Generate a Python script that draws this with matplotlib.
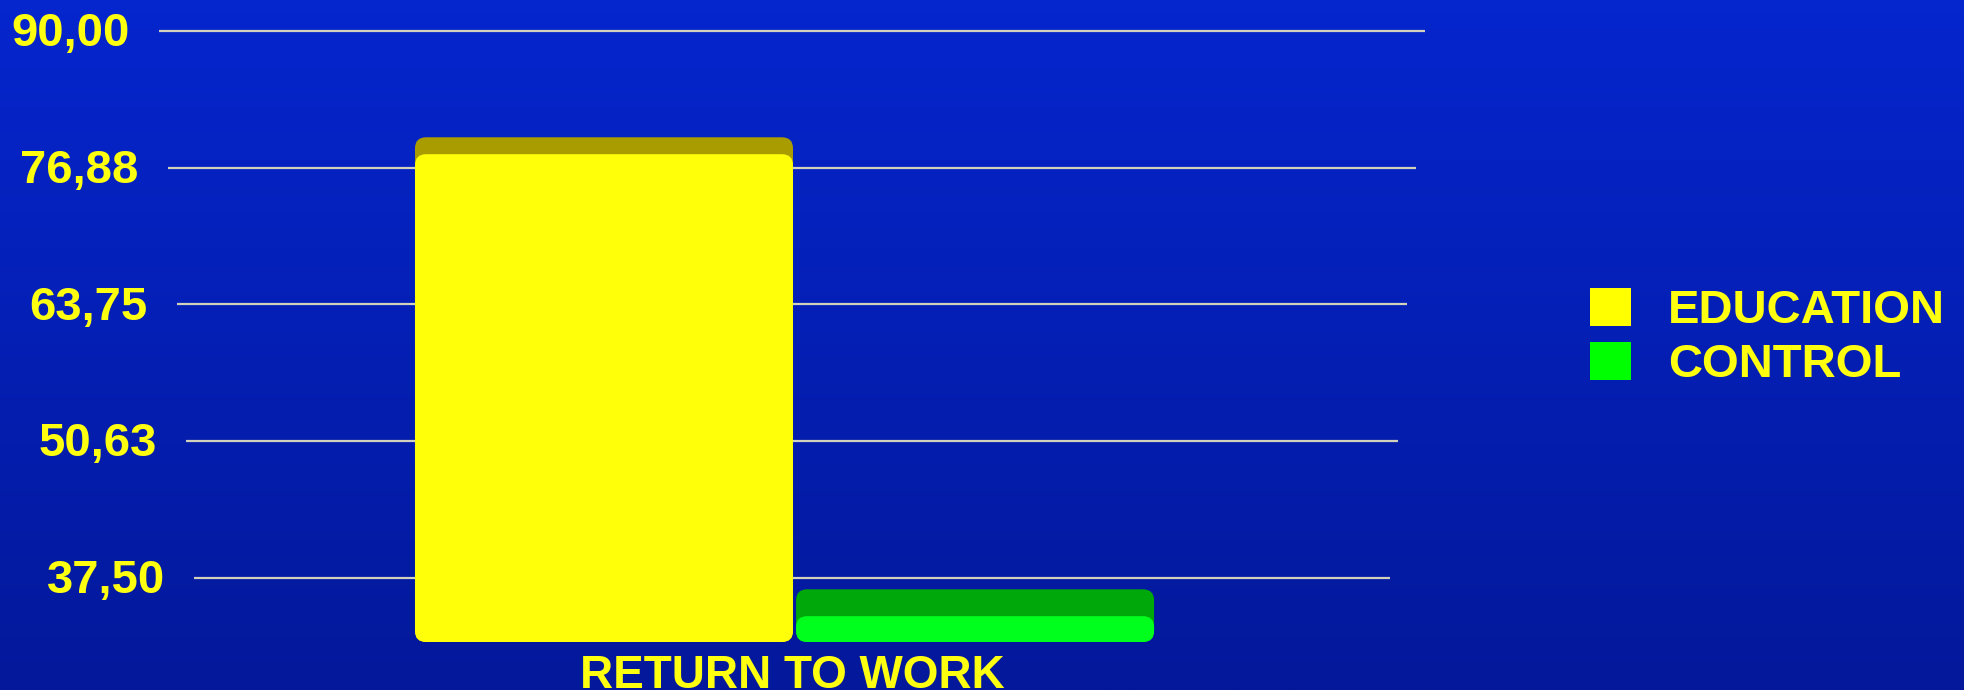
import numpy as np
import matplotlib
matplotlib.use('Agg')
from matplotlib import pyplot as plt
from matplotlib.patches import FancyBboxPatch, Patch
from matplotlib.colors import LinearSegmentedColormap

# data
category = 'RETURN TO WORK'
groups = ['EDUCATION', 'CONTROL']
values = [79.8, 36.4]
floor_value = 31.34
tick_values = [37.50, 50.63, 63.75, 76.88, 90.00]
tick_labels = ['37,50', '50,63', '63,75', '76,88', '90,00']

front_colors = ['#FFFF0A', '#00FF1C']
top_colors = ['#A89C00', '#00A80A']
legend_colors = ['#FFFF00', '#00FF00']
text_yellow = '#FFFF10'

plt.rcParams['font.family'] = ['Liberation Sans', 'DejaVu Sans']

fig = plt.figure(figsize=(19.64, 6.9), dpi=100)

# blue gradient background
bg = fig.add_axes([0, 0, 1, 1], zorder=-5)
grad = np.linspace(0, 1, 256).reshape(-1, 1)
cmap = LinearSegmentedColormap.from_list('bg', ['#0626CE', '#03189A'])
bg.imshow(grad, aspect='auto', cmap=cmap, extent=[0, 1, 0, 1])
bg.axis('off')

ax = fig.add_axes([159 / 1964, 1 - 642 / 690, 1266 / 1964, 642 / 690])
ax.patch.set_alpha(0)
for s in ax.spines.values():
    s.set_visible(False)
ax.set_xlim(-0.5, 0.5)
ax.set_ylim(floor_value, 92.98)
ax.set_yticks([])

# gridlines slightly shorter as they go down (fake perspective)
for v, lab in zip(tick_values, tick_labels):
    inset = (90 - v) / 52.5 * 0.028
    ax.hlines(v, -0.5 + inset, 0.5 - inset, color='#D2D2BC', lw=1.6, zorder=1)
    ax.text(-0.5 + inset - 0.023, v - 0.3, lab, ha='right', va='center',
            fontsize=34, fontweight='bold', color=text_yellow, clip_on=False)

# bars: darker full-height bar (top face) + bright front face
xs = [-0.1485, 0.1446]
widths = [0.2986, 0.2828]
depths = [1.4 + 0.022 * (90 - v) for v in values]
back = ax.bar(xs, [v - floor_value for v in values], widths, bottom=floor_value,
              color=top_colors, zorder=2)
front = ax.bar(xs, [v - d - floor_value for v, d in zip(values, depths)], widths,
               bottom=floor_value, color=front_colors, zorder=3)

# swap bar rectangles for rounded ones
fig.canvas.draw()
px_x = ax.transData.transform((1, 0))[0] - ax.transData.transform((0, 0))[0]
px_y = ax.transData.transform((0, 1))[1] - ax.transData.transform((0, 0))[1]
radius = 11 / px_x
for cont in (back, front):
    for rect in cont:
        p = FancyBboxPatch((rect.get_x(), rect.get_y()), rect.get_width(), rect.get_height(),
                           boxstyle=f'round,pad=0,rounding_size={radius}',
                           mutation_aspect=px_x / px_y,
                           facecolor=rect.get_facecolor(), edgecolor='none',
                           zorder=rect.get_zorder())
        ax.add_patch(p)
        rect.set_visible(False)

ax.set_xticks([0])
ax.set_xticklabels([category], fontsize=33, fontweight='bold', color=text_yellow)
ax.tick_params(axis='x', length=0, pad=9)

handles = [Patch(facecolor=c, edgecolor='none') for c in legend_colors]
fig.legend(handles, groups, loc='upper left', bbox_to_anchor=(1590 / 1964, 1 - 288 / 690),
           frameon=False, prop={'weight': 'bold', 'size': 34},
           labelcolor=text_yellow, handlelength=0.87, handleheight=0.87,
           handletextpad=0.78, labelspacing=0.18, borderpad=0, borderaxespad=0)

fig.savefig('out.png', dpi=100)
